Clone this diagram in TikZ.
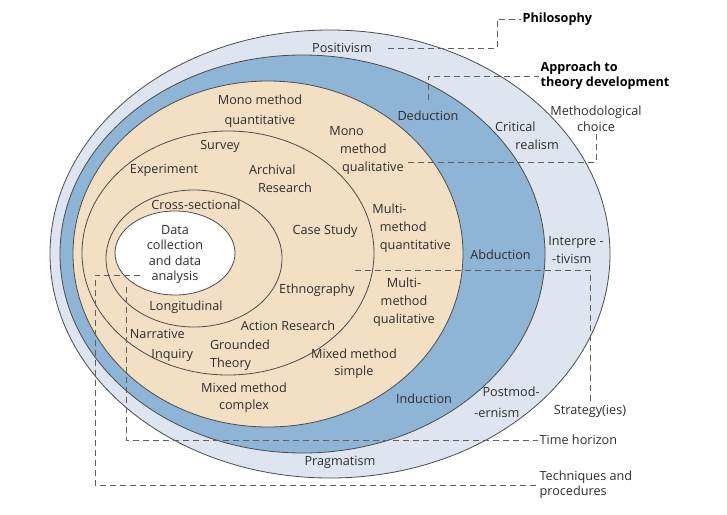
\documentclass[tikz,border=0pt]{standalone}
\usepackage{fontspec}
\setmainfont{Open Sans}
\usetikzlibrary{positioning}

\definecolor{philring}{RGB}{222,229,240}
\definecolor{approachring}{RGB}{142,180,214}
\definecolor{choicering}{RGB}{243,223,196}
\definecolor{leadgray}{RGB}{95,95,95}
\definecolor{labelgray}{RGB}{45,45,45}

\tikzset{
  ring/.style={draw=black!70,line width=0.6pt},
  lbl/.style={align=center,inner sep=1pt,text=labelgray,font=\fontsize{9.5}{13.5}\selectfont},
  tight/.style={font=\fontsize{9.5}{11.5}\selectfont},
  head/.style={lbl,text=black,font=\fontsize{9.5}{11.5}\selectfont\bfseries},
  leader/.style={draw=leadgray,line width=0.6pt,dash pattern=on 4.5pt off 3pt},
}

\begin{document}
\begin{tikzpicture}[x=0.75pt,y=-0.75pt]
\useasboundingbox (0,0) rectangle (727,514);

\path[ring,fill=philring] (330,254) ellipse [x radius=280,y radius=224];
\path[ring,fill=approachring] (302.5,254) ellipse [x radius=242.5,y radius=199];
\path[ring,fill=choicering] (268,254) ellipse [x radius=195,y radius=173];
\path[ring] (228,253) ellipse [x radius=146,y radius=122];
\path[ring] (194,258.5) ellipse [x radius=88,y radius=68.5];
\path[ring,fill=white] (175,253) ellipse [x radius=60,y radius=42];

\node[lbl] (0) at (342,48) {Positivism};
\node[lbl] (1) at (428,116) {Deduction};
\node[lbl,align=left] (2) at (527,135.5) {Critical\\\hspace*{1.6em}realism};
\node[lbl,font=\fontsize{9.5}{12}\selectfont] (3) at (596,119) {Methodological\\choice};
\node[head,anchor=west] (4) at (521,19) {Philosophy};
\node[head,anchor=west,align=left] (5) at (539,76) {Approach to\\theory development};
\node[lbl] (6) at (260,111) {Mono method\\[1.5pt]quantitative};
\node[lbl] (7) at (220,146) {Survey};
\node[lbl,align=left] (8) at (366.5,150) {Mono\\\hspace*{0.85em}method\\\hspace*{1em}qualitative};
\node[lbl] (9) at (164,170) {Experiment};
\node[lbl,align=left] (10) at (280.5,179) {Archival\\\hspace*{0.7em}Research};
\node[lbl] (11) at (196,205) {Cross-sectional};
\node[lbl] (12) at (325,231) {Case Study};
\node[lbl,align=left] (13) at (411.5,228) {Multi-\\\hspace*{0.6em}method\\\hspace*{0.6em}quantitative};
\node[lbl,font=\fontsize{9.5}{11.3}\selectfont] (14) at (175,254.5) {Data\\collection\\and data\\analysis};
\node[lbl] (15) at (500.5,255) {Abduction};
\node[lbl,align=left] (16) at (576,250) {Interpre -\\\hspace*{0.3em}-tivism};
\node[lbl] (17) at (317,290) {Ethnography};
\node[lbl] (18) at (404,302) {Multi-\\method\\qualitative};
\node[lbl] (19) at (186,307) {Longitudinal};
\node[lbl] (20) at (288,326) {Action Research};
\node[lbl,align=left] (21) at (161.5,345.5) {Narrative\\[1pt]\hspace*{1.7em}Inquiry};
\node[lbl,align=left] (22) at (240,355) {Grounded\\Theory};
\node[lbl,font=\fontsize{9.5}{12.75}\selectfont] (23) at (354,363.5) {Mixed method\\simple};
\node[lbl,font=\fontsize{9.5}{12.75}\selectfont] (24) at (244,397.5) {Mixed method\\complex};
\node[lbl] (25) at (424,399) {Induction};
\node[lbl,align=left] (26) at (507,402.5) {\hspace*{0.65em}Postmod-\\[2pt]-ernism};
\node[lbl] (27) at (590,411) {Strategy(ies)};
\node[lbl,anchor=west] (28) at (538,440) {Time horizon};
\node[lbl] (29) at (340,462) {Pragmatism};
\node[lbl,tight,anchor=west,align=left] (30) at (538,485) {Techniques and\\procedures};

% leader lines from the rings
\coordinate (p0) at (388,48);
\coordinate (p1) at (428,100);
\coordinate (p2) at (408,162);
\coordinate (p3) at (355,270);
\coordinate (p4) at (126,287);
\coordinate (p5) at (140,275);

\draw[leader] (p0) -- (497,48) |- (4.west);
\draw[leader] (p1) |- (5.west);
\draw[leader] (p2) -| (3.south);
\draw[leader] (p3) -| (27.north);
\draw[leader] (p4) |- (28.west);
\draw[leader] (p5) -- (95,275) |- (30.west);
\end{tikzpicture}
\end{document}
